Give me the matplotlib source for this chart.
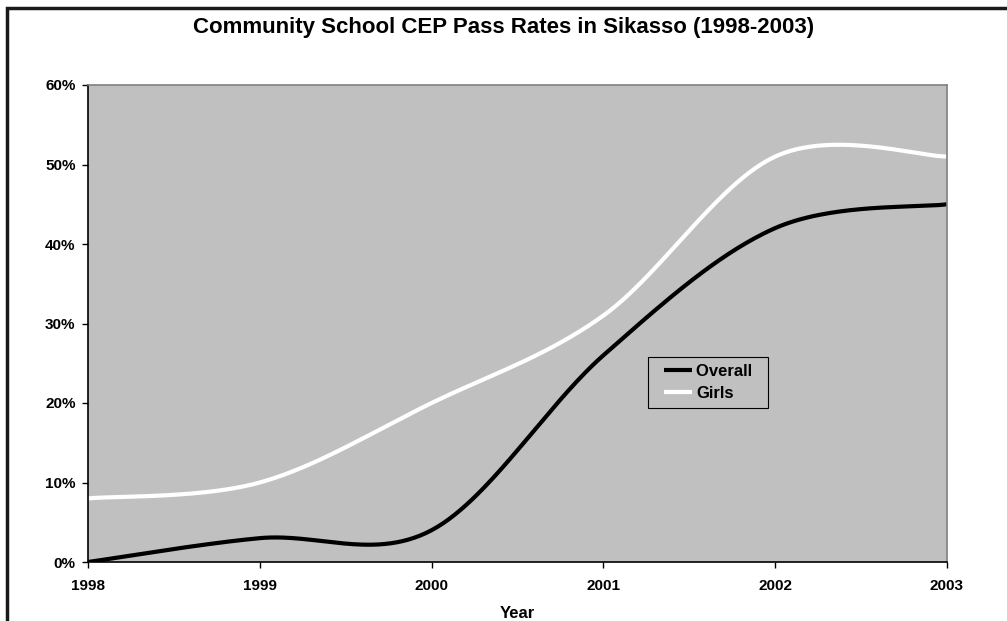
import numpy as np
import matplotlib
matplotlib.use("Agg")
import matplotlib.pyplot as plt
from matplotlib.patches import Rectangle
from matplotlib.ticker import FuncFormatter
from matplotlib.legend_handler import HandlerLine2D

# CEP pass rates by year, in percent
years = [1998, 1999, 2000, 2001, 2002, 2003]
overall = [0, 3, 4, 26, 42, 45]
girls = [8, 10, 20, 31, 51, 51]


def smooth_curve(x, y, steps=60):
    """Bezier smoothing through every point (Catmull-Rom style control points)."""
    x = np.asarray(x, dtype=float)
    y = np.asarray(y, dtype=float)
    px = np.concatenate([[x[0]], x, [x[-1]]])
    py = np.concatenate([[y[0]], y, [y[-1]]])
    t = np.linspace(0, 1, steps)
    xs, ys = [], []
    for i in range(1, len(px) - 2):
        p0 = np.array([px[i], py[i]])
        p3 = np.array([px[i + 1], py[i + 1]])
        c1 = p0 + (np.array([px[i + 1], py[i + 1]]) - np.array([px[i - 1], py[i - 1]])) / 6
        c2 = p3 - (np.array([px[i + 2], py[i + 2]]) - np.array([px[i], py[i]])) / 6
        b = ((1 - t) ** 3)[:, None] * p0 + (3 * (1 - t) ** 2 * t)[:, None] * c1 \
            + (3 * (1 - t) * t ** 2)[:, None] * c2 + (t ** 3)[:, None] * p3
        xs.append(b[:, 0])
        ys.append(b[:, 1])
    return np.concatenate(xs), np.concatenate(ys)


plt.rcParams['font.family'] = ['Liberation Sans', 'DejaVu Sans']
plt.rcParams['font.weight'] = 'bold'

fig = plt.figure(figsize=(10.07, 6.21), dpi=100)
ax = fig.add_axes([88 / 1007, 59 / 621, 859 / 1007, 477 / 621])
ax.set_facecolor('#C0C0C0')

ox, oy = smooth_curve(years, overall)
gx, gy = smooth_curve(years, girls)
ax.plot(ox, oy, color='black', lw=3, label='Overall  ', solid_capstyle='butt')
ax.plot(gx, gy, color='white', lw=3, label='Girls', solid_capstyle='butt')

ax.set_xlim(years[0], years[-1])
ax.set_ylim(0, 60)
ax.set_xticks(years)
ax.set_yticks(range(0, 61, 10))
ax.yaxis.set_major_formatter(FuncFormatter(lambda v, p: f"{v:.0f}%"))
ax.tick_params(axis='both', direction='out', length=4, width=1, labelsize=11,
               color='black')
ax.tick_params(axis='y', pad=5)
ax.tick_params(axis='x', pad=8.5)
for lbl in ax.get_xticklabels() + ax.get_yticklabels():
    lbl.set_fontweight('bold')

ax.spines['left'].set_color('black')
ax.spines['bottom'].set_color('black')
ax.spines['top'].set_color('#808080')
ax.spines['right'].set_color('#808080')
for s in ax.spines.values():
    s.set_linewidth(1.2)

ax.set_xlabel('Year', fontsize=12, fontweight='bold', labelpad=9)

# short line handles set in from the left edge of the legend box
handler = HandlerLine2D(xpad=0.58)
leg = ax.legend(loc='upper left', bbox_to_anchor=(0.652, 0.430), fancybox=False,
                facecolor='#C0C0C0', edgecolor='black', framealpha=1,
                fontsize=12, handlelength=2.23, handletextpad=0.25,
                borderpad=0.4, labelspacing=0.45, borderaxespad=0,
                handler_map={matplotlib.lines.Line2D: handler})
leg.get_frame().set_linewidth(0.8)
for txt in leg.get_texts():
    txt.set_fontweight('bold')

fig.text(0.5, 1 - 28 / 621, 'Community School CEP Pass Rates in Sikasso (1998-2003)',
         ha='center', va='center', fontsize=16, fontweight='bold')

# outer chart border, running off the right and bottom edges
fig.patches.append(Rectangle((6.5 / 1007, -0.05), 1.1, 1 - 7.5 / 621 + 0.05,
                             transform=fig.transFigure, fill=False,
                             edgecolor='#1a1a1a', lw=2.5))

fig.savefig('out.png', dpi=100)
